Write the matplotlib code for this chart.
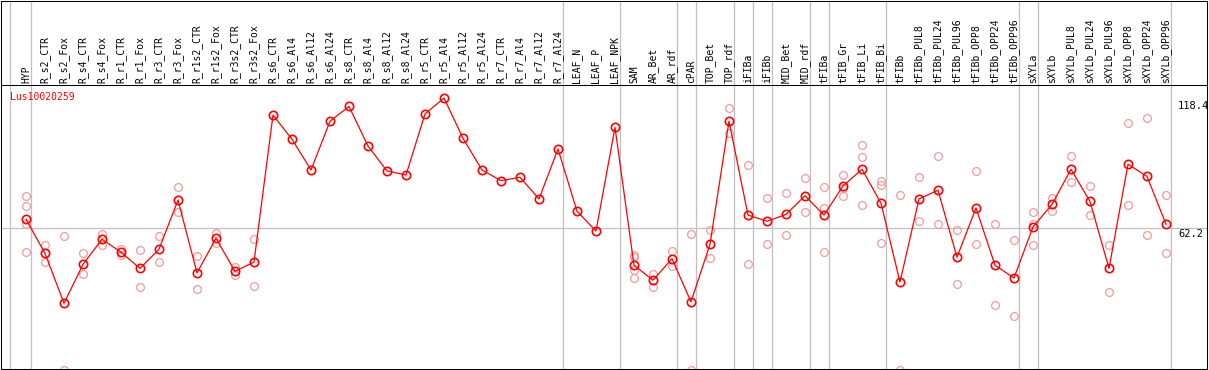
import matplotlib
matplotlib.use("Agg")
import matplotlib.pyplot as plt

# sample names, left to right
columns = ["HYP", "R_s2_CTR", "R_s2_Fox", "R_s4_CTR", "R_s4_Fox", "R_r1_CTR", "R_r1_Fox",
           "R_r3_CTR", "R_r3_Fox", "R_r1s2_CTR", "R_r1s2_Fox", "R_r3s2_CTR", "R_r3s2_Fox",
           "R_s6_CTR", "R_s6_Al4", "R_s6_Al12", "R_s6_Al24", "R_s8_CTR", "R_s8_Al4",
           "R_s8_Al12", "R_s8_Al24", "R_r5_CTR", "R_r5_Al4", "R_r5_Al12", "R_r5_Al24",
           "R_r7_CTR", "R_r7_Al4", "R_r7_Al12", "R_r7_Al24", "LEAF_N", "LEAF_P", "LEAF_NPK",
           "SAM", "AR_Bet", "AR_rdf", "cPAR", "TOP_Bet", "TOP_rdf", "iFIBa", "iFIBb",
           "MID_Bet", "MID_rdf", "tFIBa", "tFIB_Gr", "tFIB_Li", "tFIB_Bi", "tFIBb",
           "tFIBb_PUL8", "tFIBb_PUL24", "tFIBb_PUL96", "tFIBb_OPP8", "tFIBb_OPP24",
           "tFIBb_OPP96", "sXYLa", "sXYLb", "sXYLb_PUL8", "sXYLb_PUL24", "sXYLb_PUL96",
           "sXYLb_OPP8", "sXYLb_OPP24", "sXYLb_OPP96"]

# mean expression per sample
means = [66.2, 51.2, 29.3, 46.4, 57.4, 51.7, 44.6, 53.0, 74.6, 42.6, 57.8, 43.3, 47.4,
         111.9, 101.3, 87.8, 109.2, 115.7, 98.3, 87.4, 85.6, 112.4, 119.4, 101.7, 87.8,
         83.1, 84.6, 75.1, 97.0, 69.7, 61.0, 106.5,
         46.0, 39.4, 48.9, 29.9, 55.2, 109.2, 68.0, 65.3, 68.3, 76.5, 68.0, 80.8, 88.1,
         73.2, 38.6, 75.1, 78.9, 49.5, 71.1, 46.0, 40.4, 62.8, 72.7, 88.1, 74.0, 44.6,
         90.3, 85.0, 64.0]

# individual replicates (empty where none shown)
replicates = [[76.2, 71.8, 64.0, 51.7], [54.9, 47.4], [58.7, 0.0], [51.2, 42.0], [59.7, 55.0],
              [53.1, 50.5], [52.5, 36.3], [58.7, 47.3], [80.3, 69.2], [49.9, 35.4],
              [60.1, 55.6], [45.2, 41.8], [57.5, 36.7],
              [], [], [], [], [], [], [], [], [], [], [], [], [], [], [], [], [], [], [],
              [50.5, 49.5, 43.9, 40.3], [42.1, 36.6], [52.2, 45.7], [59.7, 0.0], [61.3, 49.0],
              [114.9, 103.9], [89.8, 46.5], [75.4, 55.3], [77.6, 59.1], [84.2, 69.2],
              [80.2, 71.1, 51.8], [85.6, 80.0, 76.5], [98.6, 93.4, 72.6], [83.1, 81.4, 55.6],
              [76.7, 0.0], [84.6, 65.3], [93.8, 64.0], [61.3, 37.6], [87.2, 55.2],
              [64.0, 28.4], [56.9, 23.6], [69.2, 64.0, 54.7], [75.4, 69.8], [93.8, 82.4],
              [80.6, 67.9], [54.7, 34.2], [108.3, 72.3], [110.5, 59.3], [76.7, 51.2]]

# index of last sample in each group (separator drawn after it)
group_ends = [0, 28, 31, 34, 35, 37, 38, 39, 41, 42, 45, 52, 53, 60]
gene = "Lus10020259"
max_val = 118.4
mid_val = 62.2

W, H = 1209, 370
fig = plt.figure(figsize=(W / 100, H / 100), dpi=100)
ax = fig.add_axes([1 / W, 1 / H, 1206 / W, 368.5 / H])

# pixel geometry: column i at x = 26 + 19*i, value v at y = 370 - 2.278*v
step, x0 = 19.0, 26.0
scale = 2.278
ax.set_xlim((1 - x0) / step, (1207 - x0) / step)
ax.set_ylim((370 - 369) / scale, (370 - 0.5) / scale)
top_val = (370 - 85) / scale

for s in ax.spines.values():
    s.set_linewidth(0.75)
    s.set_color("black")
ax.set_xticks([])
ax.set_yticks([])

grey = "#c0c0c0"
ax.axvline(-0.84, color=grey, lw=0.9, zorder=1)
for g in group_ends:
    ax.axvline(g + 4.5 / step, color=grey, lw=0.9, zorder=1)
ax.axhline(mid_val, color=grey, lw=0.9, zorder=1)
ax.axhline(top_val, color="black", lw=0.75, zorder=3)

mono = "DejaVu Sans Mono"
for i, name in enumerate(columns):
    ax.annotate(name, (i, top_val), xytext=(0, 2), textcoords="offset pixels",
                rotation=90, ha="center", va="bottom", fontsize=7, family=mono)

# replicate circles
for i, reps in enumerate(replicates):
    if reps:
        ax.plot([i] * len(reps), reps, "o", ms=5.6, mfc="none", mec="#f09c9c",
                mew=0.9, zorder=2, clip_on=False)

xs = list(range(len(columns)))
ax.plot(xs, means, "-", color="red", lw=0.9, zorder=4)
ax.plot(xs, means, "o", ms=6, mfc="none", mec="red", mew=1.2, zorder=5)

ax.annotate(gene, (-0.84, top_val), xytext=(0, -12), textcoords="offset pixels",
            ha="left", va="center", color="red", fontsize=7, family=mono)

lx = (1178 - x0) / step
ax.annotate(f"{max_val}", (lx, max_val), xytext=(0, -1), textcoords="offset pixels",
            ha="left", va="top", fontsize=7.5, family=mono)
ax.annotate(f"{mid_val}", (lx, mid_val), xytext=(0, -1), textcoords="offset pixels",
            ha="left", va="top", fontsize=7.5, family=mono)
ax.annotate("0", (lx, 0), xytext=(0, 4), textcoords="offset pixels",
            ha="left", va="bottom", fontsize=7.5, family=mono)

fig.savefig("out.png", dpi=100)
